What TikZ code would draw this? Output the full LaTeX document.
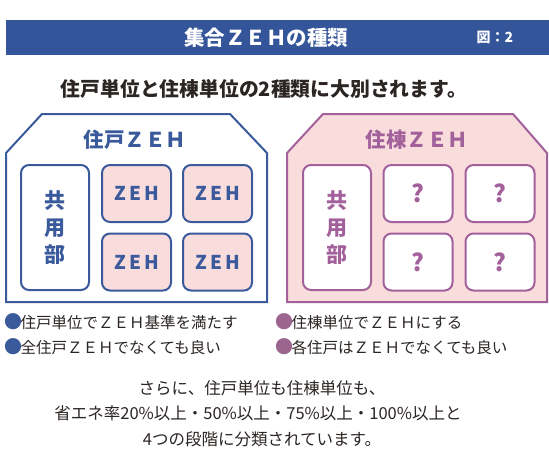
\documentclass[tikz,border=0pt]{standalone}
\usepackage{fontspec}
\setmainfont{Noto Sans CJK JP}
\definecolor{hdr}{HTML}{34559A}
\definecolor{zblue}{HTML}{3A5A9C}
\definecolor{zpink}{HTML}{F9DCDC}
\definecolor{zpurp}{HTML}{A3619C}
\definecolor{bpurp}{HTML}{9B6590}
\definecolor{txt}{HTML}{2B2523}
\newcommand{\bigdot}[1]{\textcolor{#1}{\raisebox{-0.5pt}{\fontsize{18}{17}\selectfont ●}}\hspace{-1.5pt}}
\begin{document}
\begin{tikzpicture}[x=1pt,y=-1pt,
  house/.style={line width=2pt, line join=miter},
  ubox/.style={draw, line width=2pt, rounded corners=8pt, minimum width=69pt, minimum height=57pt, inner sep=0pt},
  cbox/.style={draw, line width=2pt, rounded corners=8pt, minimum width=68pt, minimum height=125pt, inner sep=0pt, align=center, font=\fontsize{21}{27}\selectfont\bfseries},
  zeh/.style={font=\fontsize{19}{20}\selectfont\bfseries},
  qm/.style={font=\fontsize{24}{25}\selectfont\bfseries},
  bl/.style={anchor=west, inner sep=0pt, font=\fontsize{15.5}{17}\selectfont, text=txt},
  ctr/.style={inner sep=0pt, font=\fontsize{16.5}{18}\selectfont, text=txt}
]
\useasboundingbox (0,0) rectangle (549,460);
\fill[white] (0,0) rectangle (549,460);
% header
\fill[hdr] (6,20) rectangle (549,55);
\node[text=white, font=\fontsize{20.5}{21}\selectfont\bfseries, inner sep=0pt] (title) at (266,37.5) {集合ＺＥＨの種類};
\node[text=white, font=\fontsize{14}{15}\selectfont\bfseries, inner sep=0pt] (fig) at (495,37.5) {図：2};
\node[text=txt, font=\fontsize{19.8}{21}\selectfont\bfseries, inner sep=0pt] (sub) at (264,89) {住戸単位と住棟単位の2種類に大別されます。};
% left house
\draw[house, draw=zblue, fill=white] (6,153) -- (42,114) -- (230,114) -- (267,153) -- (267,302) -- (6,302) -- cycle;
\node[text=zblue, font=\fontsize{20.5}{21}\selectfont\bfseries, inner sep=0pt] (lt) at (135,140) {住戸ＺＥＨ};
\node[cbox, draw=zblue, fill=white, text=zblue] (lc) at (55,227.5) {共\\用\\部};
\node[ubox, draw=zblue, fill=zpink, text=zblue, zeh] (l1) at (136.5,193.5) {Z\,E\,H};
\node[ubox, draw=zblue, fill=zpink, text=zblue, zeh] (l2) at (217.5,193.5) {Z\,E\,H};
\node[ubox, draw=zblue, fill=zpink, text=zblue, zeh] (l3) at (136.5,262) {Z\,E\,H};
\node[ubox, draw=zblue, fill=zpink, text=zblue, zeh] (l4) at (217.5,262) {Z\,E\,H};
% right house
\draw[house, draw=zpurp, fill=zpink] (287,153) -- (323,114) -- (513,114) -- (547,153) -- (547,302) -- (287,302) -- cycle;
\node[text=zpurp, font=\fontsize{20.5}{21}\selectfont\bfseries, inner sep=0pt] (rt) at (417,140) {住棟ＺＥＨ};
\node[cbox, draw=zpurp, fill=white, text=zpurp] (rc) at (337,227.5) {共\\用\\部};
\node[ubox, draw=zpurp, fill=white, text=zpurp, qm] (r1) at (418,193.5) {?};
\node[ubox, draw=zpurp, fill=white, text=zpurp, qm] (r2) at (500,193.5) {?};
\node[ubox, draw=zpurp, fill=white, text=zpurp, qm] (r3) at (418,262) {?};
\node[ubox, draw=zpurp, fill=white, text=zpurp, qm] (r4) at (500,262) {?};
% bullets
\node[bl] (b1) at (4,322) {\bigdot{zblue}住戸単位でＺＥＨ基準を満たす};
\node[bl] (b2) at (4,347) {\bigdot{zblue}全住戸ＺＥＨでなくても良い};
\node[bl] (b3) at (275,322) {\bigdot{bpurp}住棟単位でＺＥＨにする};
\node[bl] (b4) at (275,347) {\bigdot{bpurp}各住戸はＺＥＨでなくても良い};
% bottom text
\node[ctr] (t1) at (262,388) {さらに、住戸単位も住棟単位も、};
\node[ctr] (t2) at (258,413) {省エネ率20\%以上・50\%以上・75\%以上・100\%以上と};
\node[ctr] (t3) at (262,439) {4つの段階に分類されています。};
\end{tikzpicture}
\end{document}
